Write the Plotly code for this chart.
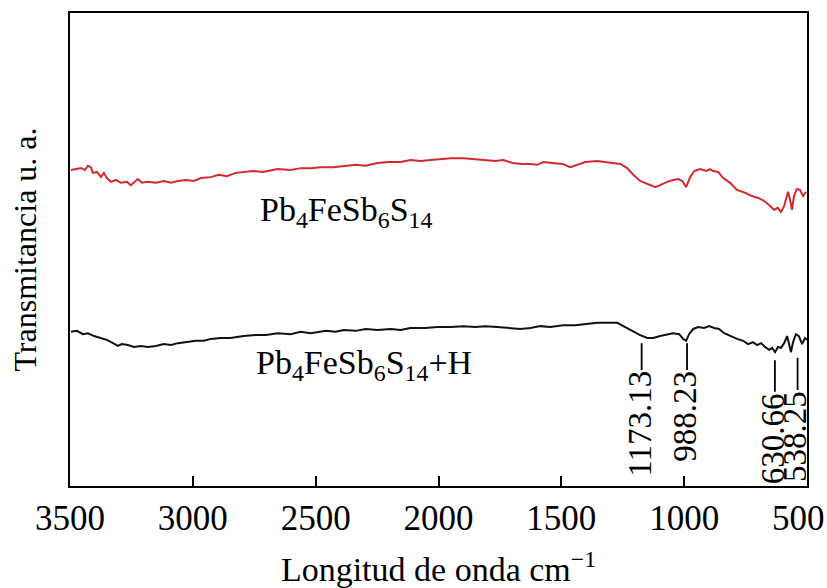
import plotly.graph_objects as go

# ---- data (wavenumber cm^-1, transmittance a.u.) ----
red_wn = [3496, 3476, 3455, 3439, 3427, 3415, 3407, 3390, 3374, 3362, 3350, 3333, 3313, 3293, 3268,
          3252, 3236, 3224, 3207, 3183, 3150, 3118, 3089, 3061, 3028, 2996, 2967, 2927, 2894, 2862,
          2825, 2793, 2756, 2715, 2683, 2654, 2602, 2561, 2520, 2480, 2427, 2386, 2337, 2297, 2248,
          2203, 2154, 2114, 2073, 2032, 1992, 1951, 1898, 1850, 1809, 1768, 1736, 1699, 1659, 1626,
          1598, 1573, 1537, 1496, 1463, 1431, 1402, 1354, 1321, 1293, 1260, 1232, 1207, 1179, 1146,
          1118, 1098, 1069, 1045, 1024, 1008, 992, 976, 959, 935, 910, 894, 882, 862, 841,
          813, 785, 752, 724, 699, 675, 650, 634, 618, 606, 593, 585, 577, 569, 561,
          553, 541, 529, 516, 504]
red_t = [66.8, 67.0, 67.2, 66.8, 67.7, 67.4, 66.2, 66.4, 65.3, 66.2, 65.1, 64.3, 64.7, 64.1, 64.3,
         63.6, 64.3, 64.9, 64.1, 64.3, 64.1, 64.5, 64.1, 64.5, 64.7, 64.5, 65.1, 65.3, 65.8, 65.5,
         66.2, 66.4, 66.6, 66.4, 66.8, 67.0, 66.8, 67.2, 67.2, 67.4, 67.4, 67.7, 67.9, 67.7, 68.3,
         68.5, 68.5, 68.9, 68.7, 68.9, 69.1, 69.3, 69.3, 69.1, 68.9, 68.7, 68.9, 68.3, 68.1, 68.1,
         67.9, 68.5, 68.3, 68.1, 67.4, 67.9, 68.5, 68.7, 68.5, 68.3, 68.1, 67.2, 65.8, 64.5, 63.8,
         63.2, 63.6, 64.3, 64.7, 64.9, 64.5, 63.2, 65.3, 66.6, 67.0, 66.6, 67.0, 66.6, 66.4, 65.1,
         64.1, 62.6, 62.0, 61.3, 60.9, 60.3, 59.2, 58.4, 58.8, 57.9, 59.2, 60.5, 62.2, 60.5, 58.4,
         61.3, 62.8, 62.6, 61.3, 62.2]

black_wn = [3496, 3472, 3447, 3427, 3402, 3374, 3350, 3325, 3305, 3289, 3264, 3240, 3211, 3183, 3150,
            3118, 3089, 3061, 3024, 2988, 2955, 2927, 2886, 2846, 2793, 2744, 2703, 2654, 2602, 2561,
            2520, 2459, 2419, 2386, 2337, 2297, 2248, 2195, 2154, 2114, 2053, 2004, 1951, 1898, 1850,
            1809, 1760, 1707, 1667, 1626, 1585, 1545, 1492, 1443, 1402, 1354, 1313, 1272, 1240, 1211,
            1179, 1150, 1126, 1098, 1069, 1045, 1020, 1004, 992, 980, 963, 943, 919, 898, 878,
            858, 837, 813, 785, 760, 740, 720, 703, 687, 671, 654, 642, 630, 618, 606,
            593, 581, 573, 565, 557, 545, 533, 520, 508, 500]
black_t = [32.6, 32.8, 32.1, 32.3, 31.7, 31.3, 30.9, 30.2, 29.6, 30.0, 29.8, 29.4, 29.6, 29.4, 29.6,
           30.0, 29.8, 30.2, 30.4, 30.7, 30.7, 31.1, 31.3, 31.3, 31.7, 31.9, 31.9, 32.3, 32.1, 32.6,
           32.3, 32.8, 32.6, 33.0, 32.8, 33.2, 33.0, 33.2, 33.0, 33.4, 33.4, 33.6, 33.6, 33.8, 33.6,
           33.8, 33.6, 33.4, 33.2, 33.4, 33.8, 33.6, 34.0, 34.0, 34.2, 34.5, 34.5, 34.5, 33.6, 32.8,
           31.9, 31.3, 31.3, 31.7, 32.1, 32.3, 32.1, 31.1, 30.7, 32.1, 33.2, 33.6, 33.4, 33.8, 33.4,
           33.2, 32.3, 31.7, 31.1, 30.7, 30.0, 30.4, 29.8, 30.2, 29.4, 28.8, 29.2, 28.3, 29.4, 29.2,
           30.2, 31.7, 30.2, 28.3, 30.4, 32.1, 31.7, 30.0, 31.3, 30.9]

peak_wn = [1173.13, 988.23, 630.66, 538.25]
peak_labels = ["1173.13", "988.23", "630.66", "538.25"]
peak_top = [30.2, 30.2, 26.6, 27.1]
peak_bottom = [24.5, 24.5, 19.9, 20.3]

sample_labels = ["Pb<sub>4</sub>FeSb<sub>6</sub>S<sub>14</sub>",
                 "Pb<sub>4</sub>FeSb<sub>6</sub>S<sub>14</sub>+H"]
sample_label_wn = [2378, 2305]
sample_label_t = [57.9, 25.6]

x_ticks = [3500, 3000, 2500, 2000, 1500, 1000, 500]
x_ticktext = ["3500", "3000", "2500", "2000", "1500", "1000", "500\u00a0\u00a0"]

FONT = "Liberation Serif"

fig = go.Figure()
fig.add_trace(go.Scatter(x=red_wn, y=red_t, mode="lines",
                         line=dict(color="#d42a2f", width=2), showlegend=False))
fig.add_trace(go.Scatter(x=black_wn, y=black_t, mode="lines",
                         line=dict(color="#111111", width=2), showlegend=False))

for wn, lab, top, bot in zip(peak_wn, peak_labels, peak_top, peak_bottom):
    fig.add_shape(type="line", x0=wn, x1=wn, y0=bot, y1=top, xref="x", yref="y",
                  line=dict(color="black", width=1.8))
    fig.add_annotation(x=wn, y=bot, text=lab, textangle=-90, showarrow=False,
                       xanchor="center", yanchor="top", xshift=-2,
                       font=dict(family=FONT, size=33, color="black"), borderpad=0)

for lab, xw, yt in zip(sample_labels, sample_label_wn, sample_label_t):
    fig.add_annotation(x=xw, y=yt, text=lab, showarrow=False, xanchor="center", yanchor="middle",
                       font=dict(family=FONT, size=34, color="black"))

fig.update_layout(
    width=827, height=588,
    margin=dict(l=70, r=20, t=13, b=102, autoexpand=False),
    paper_bgcolor="white", plot_bgcolor="white",
    font=dict(family=FONT, color="black"),
    xaxis=dict(range=[3500, 500], tickvals=x_ticks, ticktext=x_ticktext,
               ticks="inside", ticklen=10, tickwidth=1.8, tickcolor="black",
               ticklabeloverflow="allow", automargin=False,
               showline=True, linecolor="black", linewidth=2, mirror=True,
               showgrid=False, zeroline=False, tickfont=dict(family=FONT, size=35),
               title=dict(text="Longitud de onda cm<sup>−1</sup>", font=dict(family=FONT, size=34),
                          standoff=20)),
    yaxis=dict(range=[0, 100], showticklabels=False, ticks="", automargin=False,
               showline=True, linecolor="black", linewidth=2, mirror=True,
               showgrid=False, zeroline=False,
               title=dict(text="Transmitancia u. a.", font=dict(family=FONT, size=32),
                          standoff=22)),
)

fig.write_html("out.html")
